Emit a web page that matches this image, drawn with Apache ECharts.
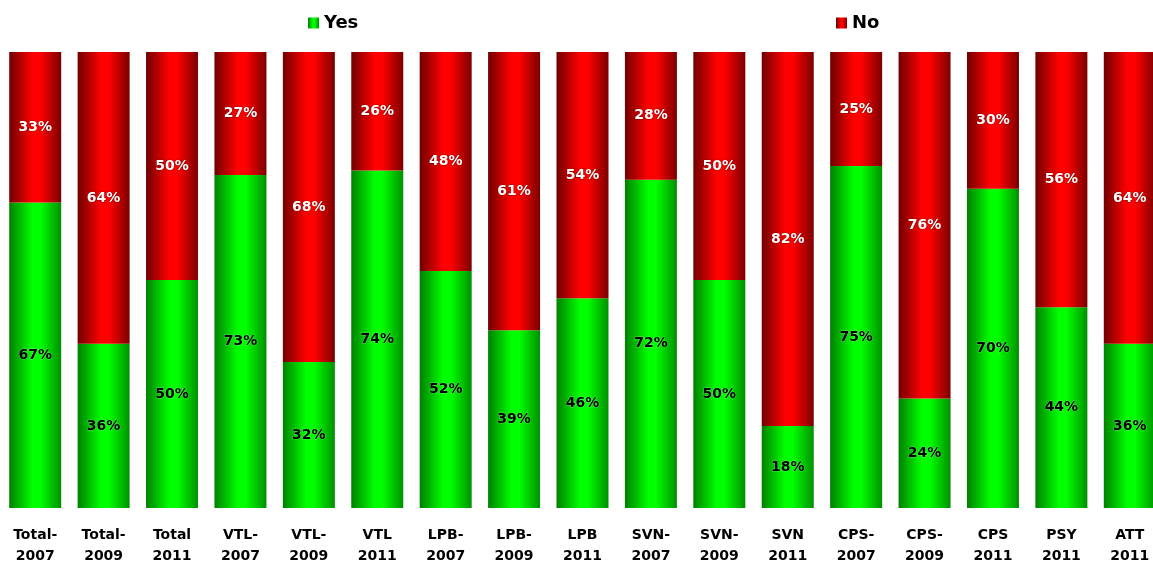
<!DOCTYPE html>
<html>
<head>
<meta charset="utf-8">
<script src="https://cdn.jsdelivr.net/npm/echarts@6/dist/echarts.min.js"></script>
<style>html,body{margin:0;padding:0;background:#fff;}#c{width:1153px;height:565px;}</style>
</head>
<body>
<div id="c"></div>
<script>
const categories = ['Total-\n2007','Total-\n2009','Total\n2011','VTL-\n2007','VTL-\n2009','VTL\n2011','LPB-\n2007','LPB-\n2009','LPB\n2011','SVN-\n2007','SVN-\n2009','SVN\n2011','CPS-\n2007','CPS-\n2009','CPS\n2011','PSY\n2011','ATT\n2011'];
const yesValues = [67,36,50,73,32,74,52,39,46,72,50,18,75,24,70,44,36];
const noValues  = [33,64,50,27,68,26,48,61,54,28,50,82,25,76,30,56,64];

const chart = echarts.init(document.getElementById('c'), null, {renderer:'canvas'});
function grad(edgeL, mid, edgeR){
  return new echarts.graphic.LinearGradient(0,0,1,0,[
    {offset:0,color:edgeL},{offset:0.45,color:mid},{offset:0.6,color:mid},{offset:1,color:edgeR}
  ]);
}
const font = '"DejaVu Sans", "Liberation Sans", sans-serif';
chart.setOption({
  animation:false,
  legend:[
    {data:['Yes'], left:303, top:9, itemWidth:11, itemHeight:11, itemGap:5, icon:'rect',
     textStyle:{fontFamily:font, fontWeight:'bold', fontSize:18, color:'#000'}},
    {data:['No'], left:831, top:9, itemWidth:11, itemHeight:11, itemGap:5, icon:'rect',
     textStyle:{fontFamily:font, fontWeight:'bold', fontSize:18, color:'#000'}}
  ],
  grid:{left:1, top:52, width:1163, height:456, containLabel:false, outerBoundsMode:'none'},
  xAxis:{type:'category', data:categories,
    axisLine:{show:false}, axisTick:{show:false},
    axisLabel:{interval:0, margin:17, fontFamily:font, fontWeight:'bold', fontSize:14, color:'#000', lineHeight:21}},
  yAxis:{type:'value', min:0, max:100, show:false, splitLine:{show:false}},
  series:[
    {name:'Yes', type:'bar', stack:'a', barWidth:52, data:yesValues,
     itemStyle:{color:grad('#008000','#00ff00','#009000')},
     label:{show:true, position:'inside', formatter:'{c}%', fontFamily:font, fontWeight:'bold', fontSize:14, color:'#000',
       textBorderColor:'rgba(255,255,255,0.3)', textBorderWidth:1}},
    {name:'No', type:'bar', stack:'a', barWidth:52, data:noValues,
     itemStyle:{color:grad('#700000','#ff0000','#7a0000')},
     label:{show:true, position:'inside', formatter:'{c}%', fontFamily:font, fontWeight:'bold', fontSize:14, color:'#fff',
       textBorderColor:'rgba(90,0,0,0.6)', textBorderWidth:1}}
  ]
});
</script>
</body>
</html>
